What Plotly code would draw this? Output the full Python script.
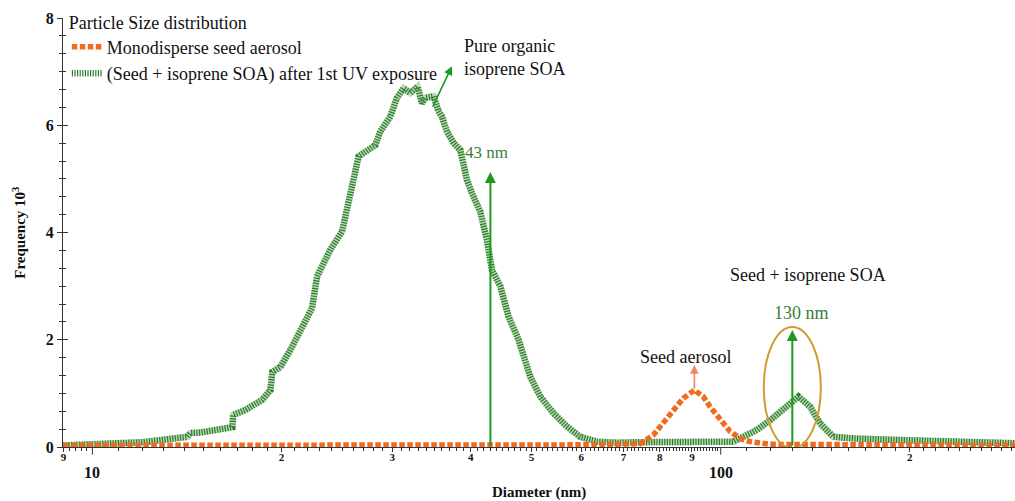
import numpy as np
import plotly.graph_objects as go

# ---- data -------------------------------------------------------------
# (Seed + isoprene SOA) after 1st UV exposure: diameter (nm) / frequency (10^3)
soa_diam = [8.99, 10.3, 12.05, 14.16, 14.32, 14.85, 16.70, 16.76, 17.52, 18.64,
            19.20, 19.34, 19.91, 20.66, 21.43, 22.37, 22.78, 23.92, 24.97, 25.74,
            26.53, 28.20, 28.72, 29.79, 30.53, 31.28, 32.06, 32.93, 33.46, 33.87,
            34.92, 35.56, 36.01, 36.67, 37.57, 38.50, 39.46, 40.19, 41.43, 42.46,
            43.25, 44.58, 45.96, 47.67, 49.76, 51.62, 54.20, 56.92, 59.77, 63.55,
            68.38, 74.47, 92.77, 104.7, 108.6, 114.2, 119.9, 126.6, 133.0, 138.8,
            143.9, 151.1, 162.7, 193.1, 231.8, 278.5, 294.0]
soa_freq = [0.03, 0.06, 0.09, 0.19, 0.26, 0.27, 0.37, 0.60, 0.69, 0.88,
            1.06, 1.40, 1.49, 1.81, 2.18, 2.59, 3.18, 3.68, 4.02, 4.67,
            5.42, 5.63, 5.88, 6.16, 6.51, 6.69, 6.60, 6.72, 6.41, 6.51,
            6.54, 6.26, 6.16, 5.88, 5.67, 5.54, 4.98, 4.73, 4.39, 3.86,
            3.30, 3.00, 2.43, 2.00, 1.31, 0.94, 0.63, 0.38, 0.19, 0.10,
            0.08, 0.09, 0.09, 0.10, 0.19, 0.32, 0.50, 0.75, 0.94, 0.75,
            0.44, 0.19, 0.16, 0.13, 0.10, 0.08, 0.07]

# Monodisperse seed aerosol
seed_diam = [8.99, 20.0, 40.0, 60.0, 74.47, 78.1, 81.0, 84.0, 87.2, 90.8,
             93.8, 96.2, 99.8, 103.5, 107.4, 111.4, 119.9, 150.0, 200.0, 294.0]
seed_freq = [0.03, 0.03, 0.03, 0.04, 0.06, 0.22, 0.45, 0.69, 0.91, 1.06,
             0.94, 0.75, 0.50, 0.29, 0.16, 0.10, 0.05, 0.04, 0.03, 0.03]

# Mode diameters called out on the chart (nm)
mode_labels = [43, 130]

# Axis ticks
x_tickvals = [9, 20, 30, 40, 50, 60, 70, 80, 90, 200]
x_ticktext = ["9", "2", "3", "4", "5", "6", "7", "8", "9", "2"]
x_decades = [10, 100]
y_tickvals = [0, 2, 4, 6, 8]

# ---- styling ----------------------------------------------------------
SERIF = "Liberation Serif, Times New Roman, serif"
AXIS = "#333333"
GREEN_DARK = "#2f7a32"
GREEN_LIGHT = "#b5dbae"
ORANGE = "#F26A1F"
ARROW_GREEN = "#1f9a1f"
LABEL_GREEN = "#3a7d3a"

x_minor = ([9.2, 9.4, 9.6, 9.8] + list(range(11, 100)) + list(range(110, 300, 10)))
x_minor = [v for v in x_minor if v not in x_tickvals and v not in x_decades]

fig = go.Figure()

# light underlay that shows through the hatched SOA line
fig.add_trace(go.Scatter(x=soa_diam, y=soa_freq, mode="lines",
                         line=dict(color=GREEN_LIGHT, width=6.5),
                         showlegend=False, hoverinfo="skip"))
fig.add_trace(go.Scatter(x=soa_diam, y=soa_freq, mode="lines",
                         name="(Seed + isoprene SOA) after 1st UV exposure",
                         legendrank=2,
                         line=dict(color=GREEN_DARK, width=6.5, dash="1.2px,1.4px")))
fig.add_trace(go.Scatter(x=seed_diam, y=seed_freq, mode="lines",
                         name="Monodisperse seed aerosol",
                         legendrank=1,
                         line=dict(color=ORANGE, width=5.5, dash="5.5px,2.5px")))
# carrier for the inner tick marks on the left axis
fig.add_trace(go.Scatter(x=[soa_diam[0]], y=[0], yaxis="y2", mode="markers",
                         marker=dict(opacity=0), showlegend=False, hoverinfo="skip"))

lg = np.log10
annotations = []
shapes = []

# long ticks at the decades plus their labels
for d in x_decades:
    shapes.append(dict(type="line", xref="x", yref="paper", x0=d, x1=d,
                       y0=0, y1=-0.018, line=dict(color=AXIS, width=1)))
    annotations.append(dict(x=lg(d), y=-0.060, xref="x", yref="paper",
                            text=str(d), showarrow=False, yanchor="middle",
                            font=dict(family=SERIF, size=16, color="#111", weight="bold")))

# axis titles
annotations.append(dict(x=0.5, y=-0.107, xref="paper", yref="paper",
                        text="Diameter (nm)", showarrow=False, yanchor="middle",
                        font=dict(family=SERIF, size=15, color="#111", weight="bold")))
annotations.append(dict(x=-0.047, y=0.5, xref="paper", yref="paper",
                        text="Frequency 10<sup>3</sup>", textangle=-90, showarrow=False,
                        xanchor="center", yanchor="middle",
                        font=dict(family=SERIF, size=15, color="#111", weight="bold")))

# vertical arrows at the mode diameters
d_small, d_large = mode_labels
for d, tip in [(d_small, 5.13), (d_large, 2.18)]:
    annotations.append(dict(x=lg(d), y=tip, ax=lg(d), ay=0, xref="x", yref="y",
                            axref="x", ayref="y", text="", showarrow=True,
                            arrowhead=2, arrowsize=1.1, arrowwidth=2,
                            arrowcolor=ARROW_GREEN, standoff=0))
annotations.append(dict(x=lg(42.4), y=5.50, xref="x", yref="y",
                        text=f"{d_small} nm", showarrow=False,
                        font=dict(family=SERIF, size=17, color=LABEL_GREEN)))
annotations.append(dict(x=lg(134.3), y=2.50, xref="x", yref="y",
                        text=f"{d_large} nm", showarrow=False,
                        font=dict(family=SERIF, size=18, color=LABEL_GREEN)))

# seed aerosol peak arrow
i_peak = int(np.argmax(seed_freq))
annotations.append(dict(x=lg(seed_diam[i_peak]), y=1.53, ax=lg(seed_diam[i_peak]),
                        ay=seed_freq[i_peak], xref="x", yref="y", axref="x", ayref="y",
                        text="", showarrow=True, arrowhead=2, arrowsize=1.1,
                        arrowwidth=1.6, arrowcolor="#f4845f", standoff=0))
annotations.append(dict(x=lg(87.8), y=1.68, xref="x", yref="y",
                        text="Seed aerosol", showarrow=False,
                        font=dict(family=SERIF, size=18, color="#111")))

# pure organic SOA arrow
annotations.append(dict(x=lg(37.35), y=7.10, ax=lg(34.72), ay=6.32, xref="x", yref="y",
                        axref="x", ayref="y", text="", showarrow=True, arrowhead=2,
                        arrowsize=1.1, arrowwidth=1.6, arrowcolor=ARROW_GREEN, standoff=0))
annotations.append(dict(x=lg(38.8), y=7.27, xref="x", yref="y",
                        text="Pure organic<br>isoprene SOA", showarrow=False,
                        xanchor="left", yanchor="middle", align="left",
                        font=dict(family=SERIF, size=18, color="#111")))

annotations.append(dict(x=lg(137.8), y=3.21, xref="x", yref="y",
                        text="Seed + isoprene SOA", showarrow=False,
                        font=dict(family=SERIF, size=18, color="#111")))

# ellipse around the SOA-coated seed mode
half = 10 ** 0.0454
shapes.append(dict(type="circle", xref="x", yref="y",
                   x0=d_large / half, x1=d_large * half, y0=-0.02, y1=2.24,
                   line=dict(color="#d29a2c", width=2)))

fig.update_layout(
    width=1015, height=501,
    template="none",
    paper_bgcolor="white", plot_bgcolor="white",
    margin=dict(l=63, r=0, t=18, b=54),
    font=dict(family=SERIF, color="#111"),
    showlegend=True,
    legend=dict(x=0.004, y=1.03, xanchor="left", yanchor="top",
                bgcolor="rgba(0,0,0,0)", borderwidth=0,
                title=dict(text="Particle Size distribution",
                           font=dict(family=SERIF, size=18, color="#111")),
                font=dict(family=SERIF, size=18, color="#111"),
                itemwidth=30, tracegroupgap=0),
    xaxis=dict(type="log", range=[lg(8.98), lg(294)],
               tickmode="array", tickvals=x_tickvals, ticktext=x_ticktext,
               ticks="outside", ticklen=4, tickwidth=1, tickcolor=AXIS,
               ticklabelstandoff=-4,
               showline=True, linecolor=AXIS, linewidth=1,
               showgrid=False, zeroline=False,
               tickfont=dict(family=SERIF, size=11, color="#111", weight="bold"),
               minor=dict(tickmode="array", tickvals=x_minor, ticks="outside",
                          ticklen=3, tickcolor=AXIS, showgrid=False)),
    yaxis=dict(range=[0, 8], tickmode="array", tickvals=y_tickvals,
               ticks="outside", ticklen=5, tickwidth=1, tickcolor=AXIS,
               showline=True, linecolor=AXIS, linewidth=1,
               showgrid=False, zeroline=False,
               tickfont=dict(family=SERIF, size=16, color="#111", weight="bold"),
               minor=dict(dtick=1 / 3, tick0=0, ticks="outside", ticklen=3,
                          tickcolor=AXIS, showgrid=False)),
    yaxis2=dict(range=[0, 8], overlaying="y", side="left", anchor="x",
                tickmode="array", tickvals=y_tickvals, ticks="inside", ticklen=5,
                tickcolor=AXIS, showticklabels=False, showline=False,
                showgrid=False, zeroline=False,
                minor=dict(dtick=1 / 3, tick0=0, ticks="inside", ticklen=3,
                           tickcolor=AXIS, showgrid=False)),
    annotations=annotations,
    shapes=shapes,
)

fig.write_html("out.html")
